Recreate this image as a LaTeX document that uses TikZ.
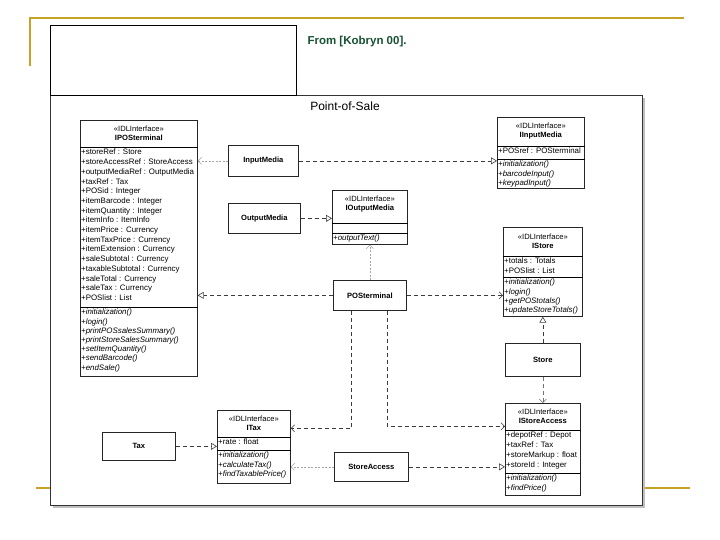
\documentclass[tikz,border=0pt]{standalone}
\usepackage{fontspec}
\setmainfont{Liberation Sans}
\usepackage{tikz}
\usetikzlibrary{positioning,arrows.meta}
\usepackage{xcolor}
\definecolor{slidegold}{RGB}{198,162,38}
\definecolor{citegreen}{RGB}{22,82,52}
\definecolor{dashgrey}{RGB}{60,60,60}
\definecolor{faintgrey}{RGB}{165,165,165}

\begin{document}
\begin{tikzpicture}[x=1pt,y=-1pt,
  cls/.style={draw=black!85,line width=0.7pt,fill=white,inner sep=0pt,anchor=north west},
  implbox/.style={cls,font=\fontsize{7.6}{9}\selectfont\bfseries},
  head/.style={align=center,inner sep=0pt,font=\fontsize{7.6}{9}\selectfont},
  attr/.style={anchor=north west,align=left,inner xsep=1pt,inner ysep=2pt,font=\fontsize{7.9}{9.7}\selectfont},
  ops/.style={attr,font=\fontsize{7.9}{9.2}\selectfont\itshape},
  real/.style={dashgrey,line width=0.6pt,dash pattern=on 4pt off 3pt,-{Triangle[open,length=6pt,width=7pt]}},
  dep/.style={dashgrey,line width=0.6pt,dash pattern=on 4pt off 3pt,-{Straight Barb[length=3.5pt,width=7pt]}},
  faint/.style={dep,faintgrey,dash pattern=on 2pt off 1.5pt}]
\useasboundingbox (0,0) rectangle (720,540);

% slide lines
\draw[slidegold,line width=2.8pt] (30,18) -- (684,18);
\draw[slidegold,line width=2.8pt] (30,16.6) -- (30,66);
\draw[slidegold,line width=2.8pt] (36,488) -- (690,488);

% package frame
\fill[black!25] (53,98) rectangle (645,508);
\node[draw=black!80,line width=0.9pt,fill=white,inner sep=0pt,
      minimum width=592pt,minimum height=410pt,anchor=north west] (pos) at (50,95) {};
\node[draw,line width=0.8pt,fill=white,inner sep=0pt,
      minimum width=246pt,minimum height=70pt,anchor=north west] (tab) at (50,25) {};
\node[font=\fontsize{12}{14}\selectfont] (postitle) at (345,106) {Point-of-Sale};
\node[font=\fontsize{11.5}{13}\selectfont\bfseries,text=citegreen,anchor=west] (cite) at (304,42) {From [Kobryn 00].};

% IPOSterminal
\node[cls,minimum width=117pt,minimum height=256pt] (ipos) at (80,120) {};
\draw[line width=0.7pt] ([yshift=-27pt]ipos.north west) -- ([yshift=-27pt]ipos.north east);
\draw[line width=0.7pt] ([yshift=-187pt]ipos.north west) -- ([yshift=-187pt]ipos.north east);
\node[head] (iposhd) at ([yshift=-13.5pt]ipos.north) {«IDLInterface»\\\textbf{IPOSterminal}};
\node[attr] (iposatt) at ([yshift=-27pt]ipos.north west) {+storeRef : Store\\+storeAccessRef : StoreAccess\\
  +outputMediaRef : OutputMedia\\+taxRef : Tax\\+POSid : Integer\\+itemBarcode : Integer\\
  +itemQuantity : Integer\\+itemInfo : ItemInfo\\+itemPrice : Currency\\+itemTaxPrice : Currency\\
  +itemExtension : Currency\\+saleSubtotal : Currency\\+taxableSubtotal : Currency\\
  +saleTotal : Currency\\+saleTax : Currency\\+POSlist : List};
\node[ops] (iposops) at ([yshift=-187pt]ipos.north west) {+initialization()\\+login()\\
  +printPOSsalesSummary()\\+printStoreSalesSummary()\\+setItemQuantity()\\+sendBarcode()\\+endSale()};

% IInputMedia
\node[cls,minimum width=87pt,minimum height=71pt] (iin) at (497,117) {};
\draw[line width=0.7pt] ([yshift=-29pt]iin.north west) -- ([yshift=-29pt]iin.north east);
\draw[line width=0.7pt] ([yshift=-42pt]iin.north west) -- ([yshift=-42pt]iin.north east);
\node[head] (iinhd) at ([yshift=-14.5pt]iin.north) {«IDLInterface»\\\textbf{IInputMedia}};
\node[attr] (iinatt) at ([yshift=-29pt]iin.north west) {+POSref : POSterminal};
\node[ops] (iinops) at ([yshift=-42pt]iin.north west) {+initialization()\\+barcodeInput()\\+keypadInput()};

% IOutputMedia
\node[cls,minimum width=75pt,minimum height=54pt] (iout) at (332,190) {};
\draw[line width=0.7pt] ([yshift=-33pt]iout.north west) -- ([yshift=-33pt]iout.north east);
\draw[line width=0.7pt] ([yshift=-43pt]iout.north west) -- ([yshift=-43pt]iout.north east);
\node[head] (iouthd) at ([yshift=-14pt]iout.north) {«IDLInterface»\\\textbf{IOutputMedia}};
\node[ops] (ioutops) at ([yshift=-43pt]iout.north west) {+outputText()};

% IStore
\node[cls,minimum width=79pt,minimum height=89pt] (ist) at (503,227) {};
\draw[line width=0.7pt] ([yshift=-29pt]ist.north west) -- ([yshift=-29pt]ist.north east);
\draw[line width=0.7pt] ([yshift=-50pt]ist.north west) -- ([yshift=-50pt]ist.north east);
\node[head] (isthd) at ([yshift=-14.5pt]ist.north) {«IDLInterface»\\\textbf{IStore}};
\node[attr] (istatt) at ([yshift=-29pt]ist.north west) {+totals : Totals\\+POSlist : List};
\node[ops] (istops) at ([yshift=-50pt]ist.north west) {+initialization()\\+login()\\+getPOStotals()\\+updateStoreTotals()};

% IStoreAccess
\node[cls,minimum width=75pt,minimum height=92pt] (isa) at (505,403) {};
\draw[line width=0.7pt] ([yshift=-27pt]isa.north west) -- ([yshift=-27pt]isa.north east);
\draw[line width=0.7pt] ([yshift=-70pt]isa.north west) -- ([yshift=-70pt]isa.north east);
\node[head] (isahd) at ([yshift=-13.5pt]isa.north) {«IDLInterface»\\\textbf{IStoreAccess}};
\node[attr] (isaatt) at ([yshift=-27pt]isa.north west) {+depotRef : Depot\\+taxRef : Tax\\+storeMarkup : float\\+storeId : Integer};
\node[ops] (isaops) at ([yshift=-70pt]isa.north west) {+initialization()\\+findPrice()};

% ITax
\node[cls,minimum width=73pt,minimum height=73pt] (itax) at (217,410) {};
\draw[line width=0.7pt] ([yshift=-27pt]itax.north west) -- ([yshift=-27pt]itax.north east);
\draw[line width=0.7pt] ([yshift=-40pt]itax.north west) -- ([yshift=-40pt]itax.north east);
\node[head] (itaxhd) at ([yshift=-13.5pt]itax.north) {«IDLInterface»\\\textbf{ITax}};
\node[attr] (itaxatt) at ([yshift=-27pt]itax.north west) {+rate : float};
\node[ops] (itaxops) at ([yshift=-40pt]itax.north west) {+initialization()\\+calculateTax()\\+findTaxablePrice()};

% implementation classes
\node[implbox,minimum width=70pt,minimum height=31pt] (inm) at (228,145) {InputMedia};
\node[implbox,minimum width=72pt,minimum height=30pt] (outm) at (228,203) {OutputMedia};
\node[implbox,minimum width=73pt,minimum height=30pt] (post) at (333,280) {POSterminal};
\node[implbox,minimum width=75pt,minimum height=33pt] (store) at (505,343) {Store};
\node[implbox,minimum width=73pt,minimum height=28pt] (tax) at (102,432) {Tax};
\node[implbox,minimum width=74pt,minimum height=29pt] (sacc) at (334,452) {StoreAccess};

% realizations
\foreach \a/\b in {inm/iin,outm/iout,tax/itax,sacc/isa}
  \draw[real] (\a.east) -- (\a.east -| \b.west);
\draw[real] (post.west) -- (post.west -| ipos.east);
\draw[real] (store.north) -- (ist.south);

% dependencies
\draw[dep] (post.east) -- (post.east -| ist.west);
\draw[dep] ([xshift=-18.5pt]post.south) |- ([yshift=18.5pt]itax.east);
\draw[dep] ([xshift=17.5pt]post.south) |- ([yshift=23pt]isa.west);
\draw[dep,black!55] (store.south) -- (isa.north);
\draw[faint] (post.north) -- (iout.south);
\draw[faint] (inm.west) -- (inm.west -| ipos.east);
\draw[faint] (sacc.west) -- (sacc.west -| itax.east);
\end{tikzpicture}
\end{document}
